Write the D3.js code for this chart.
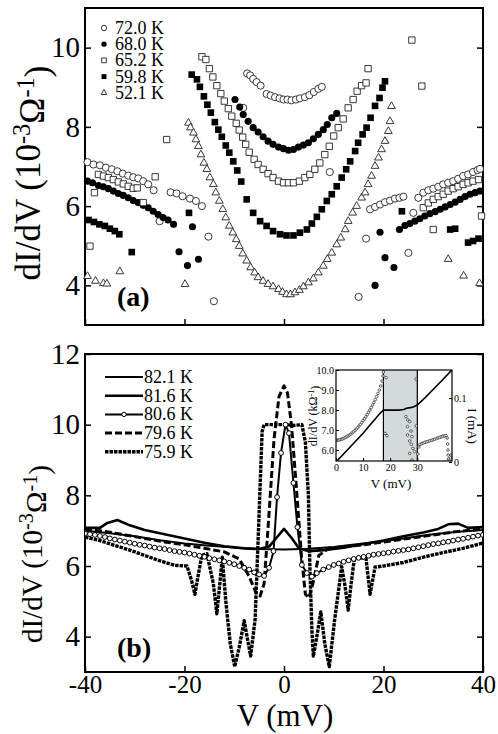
<!DOCTYPE html>
<html>
<head>
<meta charset="utf-8">
<script src="https://cdn.jsdelivr.net/npm/d3@7"></script>
<style>
  body { margin: 0; background: #fff; }
  text { font-family: "Liberation Serif", "Times New Roman", Times, serif; fill: #000; }
</style>
</head>
<body>
<script>
// ---- panel (a) : dI/dV points [V (mV), dI/dV (1e-3 S)] ----
var a720 = [[-39.5,7.11],[-38.3,7.05],[-37.0,7.03],[-35.8,6.97],[-34.6,6.93],[-33.5,6.88],[-32.4,6.82],[-31.3,6.77],[-30.3,6.73],[-29.3,6.70],[-28.3,6.63],[-27.3,6.55],[-26.2,6.40],
  [-25.0,5.62],[-22.8,6.35],[-21.6,6.32],[-20.4,6.25],[-18.9,6.19],[-17.7,6.13],[-16.5,6.00],[-15.2,5.23],[-14.1,3.60],
  [-8.2,8.48],[-7.4,9.35],[-6.8,9.30],[-6.2,9.21],[-5.5,9.13],[-4.7,9.04],
  [-3.5,8.83],[-2.7,8.79],[-1.8,8.75],[-0.9,8.72],[-0.1,8.69],[0.7,8.69],[1.5,8.67],[2.4,8.69],[3.2,8.72],[4.2,8.75],[5.1,8.80],[6.0,8.88],[6.9,8.96],[7.6,9.01],
  [9.2,6.86],[15.0,3.71],[16.5,5.18],
  [17.3,5.92],[18.3,5.98],[19.3,6.04],[20.3,6.10],[21.3,6.14],[22.3,6.19],[23.2,6.21],[24.0,6.24],[25.0,4.82],[26.0,5.83],
  [27.0,6.21],[28.0,6.34],[29.0,6.40],[30.0,6.44],[31.0,6.49],[32.0,6.55],[33.0,6.59],[34.0,6.63],[35.0,6.69],[36.0,6.76],[37.0,6.80],[38.0,6.86],[38.9,6.91],[39.4,6.94]];

var a680 = [[-39.5,6.63],[-38.5,6.59],[-37.3,6.52],[-36.3,6.49],[-35.3,6.44],[-34.3,6.38],[-33.3,6.32],[-32.3,6.27],[-31.3,6.21],[-30.3,6.14],[-29.3,6.09],[-28.3,6.02],[-27.3,5.96],[-26.3,5.87],[-25.3,5.79],[-24.3,5.71],[-23.3,5.65],[-22.2,5.54],
  [-21.1,4.85],[-19.4,4.50],[-18.4,5.48],[-17.2,4.66],
  [-9.85,8.69],[-8.9,8.50],[-8.2,8.31],[-7.2,8.14],[-6.2,7.98],[-5.2,7.87],[-4.2,7.75],[-3.2,7.64],[-2.2,7.56],[-1.1,7.49],[-0.1,7.45],[0.9,7.41],[1.9,7.43],[2.9,7.49],[3.9,7.54],[4.9,7.60],[5.9,7.70],[6.9,7.81],[7.9,7.93],[8.7,8.06],[9.6,8.23],[10.6,8.34],
  [18.3,4.00],[19.3,5.34],[20.3,4.70],[22.1,4.45],
  [23.2,5.41],[24.3,5.51],[25.3,5.56],[26.3,5.62],[27.3,5.68],[28.3,5.75],[29.3,5.81],[30.4,5.86],[31.4,5.92],[32.4,5.98],[33.4,6.04],[34.4,6.10],[35.4,6.17],[36.4,6.24],[37.4,6.30],[38.4,6.34],[39.4,6.38]];

var a652 = [[-39.0,4.99],[-38.1,6.34],[-37.3,6.80],[-36.3,6.76],[-35.3,6.72],[-34.3,6.67],[-33.3,6.61],[-32.3,6.56],[-31.3,6.50],[-30.3,6.45],[-29.5,6.46],[-28.3,6.09],[-25.9,6.74],[-23.6,7.68],
  [-16.5,9.77],[-15.7,9.70],[-15.0,9.47],[-14.3,9.26],[-13.5,9.04],[-12.7,8.84],[-12.0,8.65],[-11.2,8.46],[-10.5,8.27],[-9.6,8.09],[-9.0,7.92],[-8.3,7.74],[-7.7,7.56],[-7.0,7.36],[-6.0,7.18],[-5.2,7.05],[-4.2,6.93],[-3.2,6.82],[-2.2,6.72],[-1.1,6.63],[-0.1,6.59],[0.9,6.59],[1.9,6.59],[3.1,6.63],[4.2,6.72],[5.2,6.80],[6.2,6.93],[7.2,7.09],[8.2,7.30],[9.1,7.51],[10.0,7.77],[10.9,7.98],[11.9,8.20],[12.9,8.48],[13.9,8.69],[14.7,8.90],[15.6,9.04],[16.5,9.11],
  [16.9,9.47],[25.7,10.19],[27.7,9.03],[30.0,5.41],
  [28.0,5.96],[29.0,6.08],[30.0,6.17],[31.0,6.24],[32.0,6.30],[33.0,6.38],[34.0,6.44],[35.0,6.49],[36.0,6.55],[37.0,6.59],[38.0,6.63],[39.1,6.67],[39.7,5.75]];

var a598 = [[-39.3,5.65],[-38.2,5.60],[-37.1,5.54],[-36.0,5.50],[-35.0,5.43],[-34.0,5.37],[-33.1,5.29],[-30.6,4.84],[-19.1,5.83],
  [-18.55,9.32],[-17.5,9.20],[-16.9,9.01],[-16.1,8.77],[-15.4,8.56],[-14.7,8.36],[-13.9,8.12],[-13.2,7.93],[-12.5,7.75],[-11.7,7.53],[-11.0,7.35],[-10.2,7.13],[-9.4,6.90],[-8.6,6.62],[-7.5,6.17],[-6.2,5.83],[-4.8,5.62],[-3.5,5.50],[-2.2,5.37],[-0.8,5.29],[0.5,5.26],[1.9,5.26],[3.2,5.33],[4.6,5.41],[5.6,5.56],[6.6,5.73],[7.6,5.92],[8.6,6.13],[9.6,6.30],[10.6,6.50],[11.6,6.72],[12.5,6.93],[13.3,7.13],[14.3,7.39],[14.9,7.60],[15.8,7.81],[16.6,7.98],[17.4,8.23],[18.3,8.53],[19.2,8.73],[19.8,8.99],[20.3,9.15],
  [23.7,5.87],[33.4,5.41],[34.4,5.43],[37.0,5.08],[38.0,5.12],[39.1,5.18]];

var a521 = [[-39.5,4.23],[-37.9,4.11],[-36.3,4.05],[-35.6,4.04],[-33.0,4.35],[-19.9,4.03],
  [-19.2,8.10],[-18.8,7.98],[-18.2,7.85],[-17.7,7.68],[-17.2,7.51],[-16.7,7.30],[-16.1,7.09],[-15.5,6.93],[-14.9,6.72],[-14.2,6.55],[-13.7,6.34],[-13.0,6.13],[-12.3,5.92],[-11.7,5.71],[-11.0,5.50],[-10.3,5.33],[-9.6,5.16],[-9.0,4.99],[-8.3,4.80],[-7.5,4.62],[-6.7,4.45],[-5.9,4.32],[-5.2,4.20],[-4.2,4.11],[-3.2,4.03],[-2.2,3.97],[-1.1,3.90],[-0.3,3.83],[0.5,3.77],[1.3,3.77],[2.2,3.82],[3.1,3.88],[3.9,3.97],[4.9,4.07],[5.9,4.17],[6.9,4.32],[7.9,4.49],[8.7,4.66],[9.6,4.82],[10.6,5.03],[11.4,5.20],[12.3,5.41],[12.9,5.62],[13.8,5.83],[14.6,6.00],[15.6,6.21],[16.3,6.34],[16.9,6.55],[17.6,6.76],[18.3,7.01],[19.0,7.22],[19.6,7.43],[20.3,7.64],[20.97,7.89],[21.3,8.14],[21.6,8.52],
  [33.0,4.66],[36.1,4.24],[39.3,4.05]];

var seriesA = ["72.0 K", "68.0 K", "65.2 K", "59.8 K", "52.1 K"];

// ---- panel (b) : dI/dV curves ----
var b821 = [[-40,7.0],[-35,6.93],[-30,6.84],[-25,6.73],[-20,6.64],[-15,6.57],[-10,6.52],[-5,6.48],[0,6.47],[5,6.49],[10,6.54],[15,6.62],[20,6.7],[25,6.8],[30,6.9],[35,6.97],[40,7.02]];

var b816 = [[-40,7.08],[-37,7.08],[-35.5,7.22],[-33.5,7.3],[-31,7.15],[-28,7.02],[-24,6.9],[-20,6.78],[-16,6.66],[-12,6.56],[-8,6.5],[-5,6.48],[-3,6.55],[-1.5,6.8],[0,7.05],[1.5,6.8],[3,6.5],[5,6.42],[8,6.45],[12,6.52],[16,6.62],[20,6.72],[24,6.84],[28,6.95],[31,7.05],[33,7.18],[35,7.2],[37,7.08],[40,7.1]];

var b806 = [[-40,6.92],[-39,6.9],[-38,6.88],[-37,6.85],[-36,6.82],[-35,6.78],[-34,6.75],[-33,6.72],[-32,6.69],[-31,6.66],[-30,6.63],[-29,6.6],[-28,6.58],[-27,6.55],[-26,6.52],[-25,6.5],[-24,6.48],[-23,6.45],[-22,6.42],[-21,6.4],[-20,6.38],[-19,6.35],[-18,6.32],[-17,6.29],[-16,6.26],[-15,6.22],[-14,6.19],[-13,6.16],[-12,6.13],[-11,6.09],[-10,6.05],[-9,6.0],[-8,5.95],[-7,5.9],[-6,5.82],[-5,5.76],[-4,5.72],[-3,5.95],
  [-2.1,6.42],[-1.4,7.95],[-0.6,9.2],[0.3,10.0],[1.0,9.76],[1.9,8.35],[2.7,7.1],[3.6,6.03],[4.6,5.8],[5.6,5.7],[6.6,5.8],
  [7.9,5.9],[9,5.97],[10,6.03],[11,6.07],[12,6.12],[13,6.16],[14,6.2],[15,6.23],[16,6.26],[17,6.29],[18,6.32],[19,6.34],[20,6.36],[21,6.38],[22,6.41],[23,6.43],[24,6.45],[25,6.47],[26,6.5],[27,6.53],[28,6.56],[29,6.59],[30,6.62],[31,6.64],[32,6.67],[33,6.69],[34,6.72],[35,6.75],[36,6.77],[37,6.8],[38,6.83],[39,6.86],[40,6.88]];

var b796 = [[-40,7.05],[-36,6.98],[-32,6.88],[-28,6.78],[-24,6.68],[-20,6.6],[-16,6.5],[-12,6.4],[-9,6.2],[-7,5.7],[-5.5,5.2],[-4.8,5.15],[-4,5.5],[-3,7.5],[-2,9.6],[-1,10.8],[0,11.1],[0.7,10.9],[1.5,10.0],[2.5,8.2],[3.5,6.3],[4.3,5.2],[5,5.1],[5.8,5.5],[7,6.3],[9,6.5],[12,6.55],[16,6.6],[20,6.68],[25,6.78],[30,6.88],[35,6.98],[40,7.05]];

var b759 = [[-40,6.82],[-37,6.72],[-34,6.58],[-31,6.45],[-28,6.3],[-25,6.15],[-22,6.02],[-19.5,6.0],[-18.6,5.6],[-17.9,5.2],[-17.3,5.7],[-16.5,6.3],[-15.5,6.35],[-14.2,5.5],[-13.5,4.65],[-12.9,5.5],[-12.4,6.25],[-11.7,5.0],[-10.8,3.8],[-9.9,3.15],[-9.0,3.7],[-8.0,4.45],[-7.3,3.9],[-6.7,3.45],[-5.8,4.5],[-5.0,7.5],[-4.4,9.8],[-4.0,10.0],[-2,10.0],[0,10.0],[2,9.98],[3.6,10.0],[4.3,9.5],[4.9,8.0],[5.2,6.0],[5.6,4.2],[5.9,3.45],[6.6,4.0],[7.4,4.7],[8.2,3.8],[9.1,3.15],[10.2,4.5],[11.6,5.98],[12.3,5.4],[12.9,4.75],[13.5,5.5],[14.1,6.17],[15,6.25],[16.5,6.2],[17.3,5.2],[18.3,5.97],[20,6.0],[24,6.1],[28,6.25],[32,6.38],[36,6.5],[40,6.65]];

var seriesB = ["82.1 K", "81.6 K", "80.6 K", "79.6 K", "75.9 K"];

// ---- inset : dI/dV (kOhm^-1) and I (mA) vs V (mV) ----
var insetDidv = [[0,6.47],[0.5,6.49],[1,6.5],[1.5,6.52],[2,6.54],[2.5,6.56],[3,6.6],[3.5,6.63],[4,6.67],[4.5,6.71],[5,6.76],[5.5,6.8],[6,6.86],[6.5,6.92],[7,6.98],[7.5,7.05],[8,7.12],[8.5,7.2],[9,7.28],[9.5,7.37],[10,7.47],[10.5,7.56],[11,7.66],[11.5,7.77],[12,7.88],[12.5,8.0],[13,8.12],[13.5,8.25],[14,8.38],[14.5,8.52],[15,8.67],[15.5,8.83],[16,9.0],[16.5,9.2],[17,9.45],[17.3,9.7],[17.5,9.9],
  [18.1,6.83],[18.8,6.72],[18.5,9.62],[29.5,9.55],[25.8,7.67],[26.5,7.5],[27.2,7.42],[26.4,7.17],[27.7,6.95],[26.4,6.75],[28.0,6.67],[27.2,6.45],[27.8,6.28],[28.4,6.08],[27.2,5.83],[28.0,5.5],[28.9,5.38],[29.0,5.92],[29.6,7.2],
  [30.2,5.8],[30.6,6.15],[31,6.28],[31.6,6.32],[32.2,6.35],[32.8,6.38],[33.4,6.41],[34,6.43],[34.6,6.46],[35.2,6.48],[35.8,6.51],[36.4,6.54],[37,6.57],[37.6,6.6],[38.2,6.63],[38.8,6.66],[39.4,6.69],[40,6.71],[40.6,6.72],[41,6.6],[41.2,6.3],[41.3,6.0],[41.4,5.75],[41.5,5.55],[41.8,5.45],[42.2,5.6],[42.4,5.75]];

var insetIV = [[0,0],[2,0.009],[4,0.018],[6,0.027],[8,0.036],[10,0.045],[12,0.055],[14,0.065],[16,0.075],[17.5,0.081],[20,0.081],[23,0.081],[25,0.082],[26,0.084],[27.5,0.085],[28.5,0.086],[30,0.089],[33,0.101],[36,0.114],[39,0.127],[42.8,0.144]];
var shadeRange = [17.5, 30];

var xTicks = [-40, -20, 0, 20, 40];
var yTicksA = [4, 6, 8, 10];
var yTicksB = [4, 6, 8, 10, 12];

var W = 498, H = 734;
var svg = d3.select('body').append('svg').attr('width', W).attr('height', H);

var x = d3.scaleLinear().domain([-40, 40]).range([85, 483]);
var ya = d3.scaleLinear().domain([3, 11]).range([325, 8]);
var yb = d3.scaleLinear().domain([3, 12]).range([672, 354]);

var SERIF = '"Liberation Serif", "Times New Roman", Times, serif';

function drawAxes(y, yTicks, xLabels) {
  var top = y.range()[1], bottom = y.range()[0];
  var g = svg.append('g');
  var left = d3.axisLeft(y).tickValues(yTicks).tickSizeInner(-6).tickSizeOuter(0).tickPadding(5)
    .tickFormat(function(d) { return d; });
  g.append('g').attr('transform', 'translate(85,0)').call(left)
    .call(function(s) { s.selectAll('text').style('font-size', '29px'); });
  var right = d3.axisRight(y).tickValues(yTicks).tickSizeInner(-6).tickSizeOuter(0).tickFormat('');
  g.append('g').attr('transform', 'translate(483,0)').call(right);
  var bot = d3.axisBottom(x).tickValues(xTicks).tickSizeInner(-6).tickSizeOuter(0).tickPadding(3)
    .tickFormat(function(d) { return xLabels ? String(d) : ''; });
  g.append('g').attr('transform', 'translate(0,' + bottom + ')').call(bot)
    .call(function(s) { s.selectAll('text').style('font-size', '25px'); });
  g.selectAll('.domain').remove();
  g.selectAll('.tick line').attr('stroke', '#000').attr('stroke-width', 1.5);
  g.selectAll('g').attr('font-family', SERIF);
  svg.append('rect').attr('x', 85).attr('y', top).attr('width', 398).attr('height', bottom - top)
    .attr('fill', 'none').attr('stroke', '#000').attr('stroke-width', 2);
}

function yLabel(cx, cy, size) {
  var t = svg.append('text').attr('transform', 'translate(' + cx + ',' + cy + ') rotate(-90)')
    .attr('text-anchor', 'middle').style('font-size', size + 'px');
  t.append('tspan').text('dI/dV (10');
  t.append('tspan').attr('dy', '-0.42em').style('font-size', (size * 0.7) + 'px').text('-3');
  t.append('tspan').attr('dy', '0.42em').text('Ω');
  t.append('tspan').attr('dy', '-0.42em').style('font-size', (size * 0.7) + 'px').text('-1');
  t.append('tspan').attr('dy', '0.42em').text(')');
}

// ================= panel (a) =================
var symA = [
  {type: d3.symbolCircle, size: 40, fill: '#fff'},
  {type: d3.symbolCircle, size: 40, fill: '#000'},
  {type: d3.symbolSquare, size: 40, fill: '#fff'},
  {type: d3.symbolSquare, size: 44, fill: '#000'},
  {type: d3.symbolTriangle, size: 26, fill: '#fff'}
];
var dataA = [a720, a680, a652, a598, a521];

drawAxes(ya, yTicksA, false);

dataA.forEach(function(pts, i) {
  var s = symA[i];
  svg.append('g').selectAll('path').data(pts).enter().append('path')
    .attr('transform', function(d) { return 'translate(' + x(d[0]) + ',' + ya(d[1]) + ')'; })
    .attr('d', d3.symbol().type(s.type).size(s.size))
    .attr('fill', s.fill)
    .attr('stroke', s.fill === '#000' ? 'none' : '#222')
    .attr('stroke-width', 0.9);
});

// legend (a)
var legA = svg.append('g');
seriesA.forEach(function(name, i) {
  var s = symA[i];
  var yy = 28 + i * 16.2;
  legA.append('path').attr('transform', 'translate(104,' + yy + ')')
    .attr('d', d3.symbol().type(s.type).size(s.size * 0.55))
    .attr('fill', s.fill).attr('stroke', s.fill === '#000' ? 'none' : '#222').attr('stroke-width', 0.9);
  legA.append('text').attr('x', 115).attr('y', yy + 6).style('font-size', '18px').text(name);
});

svg.append('text').attr('x', 117).attr('y', 306).style('font-size', '28px').style('font-weight', 'bold').text('(a)');
yLabel(40, 173, 35);

// ================= panel (b) =================
drawAxes(yb, yTicksB, true);

var styleB = [
  {w: 2, dash: null},
  {w: 2.6, dash: null},
  {w: 2, dash: null},
  {w: 3, dash: '7,3'},
  {w: 3.4, dash: '3.5,1'}
];
var dataB = [b821, b816, b806, b796, b759];
var lineB = d3.line().x(function(d) { return x(d[0]); }).y(function(d) { return yb(d[1]); });

svg.append('clipPath').attr('id', 'clipb').append('rect')
  .attr('x', 85).attr('y', 354).attr('width', 398).attr('height', 318);
var gb = svg.append('g').attr('clip-path', 'url(#clipb)');

dataB.forEach(function(pts, i) {
  gb.append('path').datum(pts).attr('d', lineB)
    .attr('fill', 'none').attr('stroke', '#000')
    .attr('stroke-width', styleB[i].w)
    .attr('stroke-dasharray', styleB[i].dash)
    .attr('stroke-linejoin', 'round');
});
gb.append('g').selectAll('circle').data(b806).enter().append('circle')
  .attr('cx', function(d) { return x(d[0]); }).attr('cy', function(d) { return yb(d[1]); })
  .attr('r', 2.4).attr('fill', '#fff').attr('stroke', '#000').attr('stroke-width', 1);

// legend (b)
var legB = svg.append('g');
seriesB.forEach(function(name, i) {
  var yy = 377 + i * 18.7;
  legB.append('line').attr('x1', 105).attr('x2', 143).attr('y1', yy).attr('y2', yy)
    .attr('stroke', '#000').attr('stroke-width', styleB[i].w).attr('stroke-dasharray', styleB[i].dash);
  if (i === 2) {
    legB.append('circle').attr('cx', 124).attr('cy', yy).attr('r', 2.2)
      .attr('fill', '#fff').attr('stroke', '#000').attr('stroke-width', 1);
  }
  legB.append('text').attr('x', 144).attr('y', yy + 6).style('font-size', '18px').text(name);
});

svg.append('text').attr('x', 117).attr('y', 657).style('font-size', '28px').style('font-weight', 'bold').text('(b)');
yLabel(42, 554, 29);

svg.append('text').attr('x', 285).attr('y', 726).attr('text-anchor', 'middle')
  .style('font-size', '31px').text('V (mV)');

// ================= inset =================
var ix = d3.scaleLinear().domain([0, 42.8]).range([336, 452]);
var iy = d3.scaleLinear().domain([5.45, 10]).range([461, 370]);
var iI = d3.scaleLinear().domain([0, 0.1]).range([462, 398]);

svg.append('rect').attr('x', 336).attr('y', 370).attr('width', 116).attr('height', 91).attr('fill', '#fff');
svg.append('clipPath').attr('id', 'clipi').append('rect')
  .attr('x', 336).attr('y', 370).attr('width', 116).attr('height', 91);
var gi = svg.append('g').attr('clip-path', 'url(#clipi)');

gi.append('rect').attr('x', ix(shadeRange[0])).attr('y', 370)
  .attr('width', ix(shadeRange[1]) - ix(shadeRange[0])).attr('height', 91)
  .attr('fill', '#d3d8d8');
shadeRange.forEach(function(v) {
  gi.append('line').attr('x1', ix(v)).attr('x2', ix(v)).attr('y1', 370).attr('y2', 461)
    .attr('stroke', '#000').attr('stroke-width', 1.2);
});

gi.append('path').datum(insetIV)
  .attr('d', d3.line().x(function(d) { return ix(d[0]); }).y(function(d) { return iI(d[1]); }))
  .attr('fill', 'none').attr('stroke', '#000').attr('stroke-width', 1.6);

gi.append('g').selectAll('circle').data(insetDidv).enter().append('circle')
  .attr('cx', function(d) { return ix(d[0]); }).attr('cy', function(d) { return iy(d[1]); })
  .attr('r', 1.3).attr('fill', '#fff').attr('stroke', '#222').attr('stroke-width', 0.7);

var ia = svg.append('g').style('font-size', '12px');
ia.append('g').attr('transform', 'translate(0,461)')
  .call(d3.axisBottom(ix).tickValues([0, 10, 20, 30]).tickSizeInner(-3).tickSizeOuter(0).tickPadding(3));
ia.append('g').attr('transform', 'translate(336,0)')
  .call(d3.axisLeft(iy).tickValues([6, 7, 8, 9, 10]).tickSizeInner(-3).tickSizeOuter(0).tickPadding(2));
ia.append('g').attr('transform', 'translate(452,0)')
  .call(d3.axisRight(iI).tickValues([0, 0.1]).tickSizeInner(-3).tickSizeOuter(0).tickPadding(2)
    .tickFormat(function(d) { return String(d); }));
ia.selectAll('.domain').remove();
ia.selectAll('g').attr('font-family', SERIF);
ia.selectAll('text').attr('fill', '#000');
svg.append('rect').attr('x', 336).attr('y', 370).attr('width', 116).attr('height', 91)
  .attr('fill', 'none').attr('stroke', '#000').attr('stroke-width', 1.2);

svg.append('text').attr('x', 391).attr('y', 488).attr('text-anchor', 'middle').style('font-size', '13px').text('V (mV)');
var il = svg.append('text').attr('transform', 'translate(317,416) rotate(-90)').attr('text-anchor', 'middle').style('font-size', '12px');
il.append('tspan').text('dI/dV (kΩ');
il.append('tspan').attr('dy', '-0.4em').style('font-size', '8px').text('-1');
il.append('tspan').attr('dy', '0.4em').text(')');
svg.append('text').attr('transform', 'translate(468,426) rotate(90)').attr('text-anchor', 'middle')
  .style('font-size', '13px').text('I (mA)');
</script>
</body>
</html>
